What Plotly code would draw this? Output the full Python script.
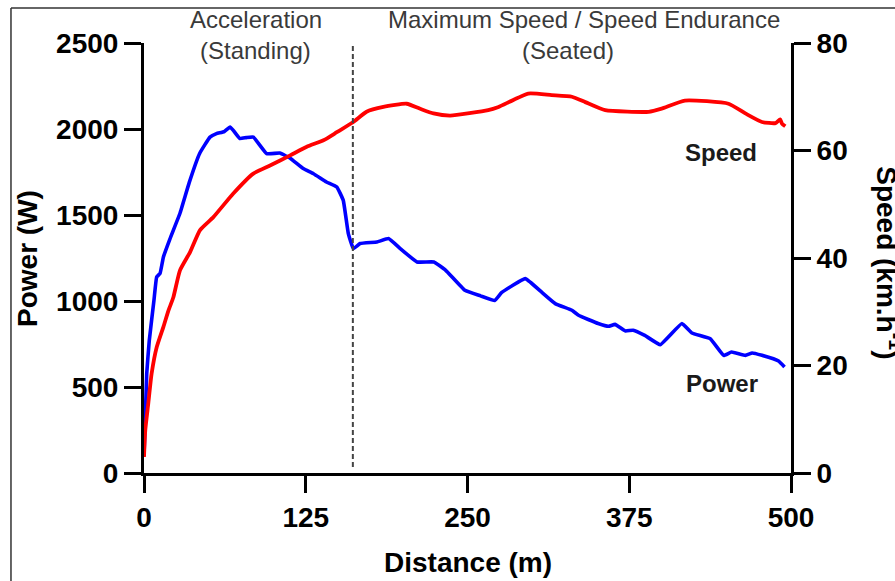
import plotly.graph_objects as go

# Power curve (W) vs distance (m)
power_dist = [0, 2.1, 4.1, 7.7, 9.8, 12.4, 15, 20, 27.8, 35, 43, 51, 56, 62, 66.5, 69, 74, 79, 84.5,
              94.8, 105, 113, 123, 131, 141, 149, 154, 157.9, 161.8, 167, 180, 189, 198, 211, 224,
              233, 248, 260, 271, 276.5, 294.6, 307.5, 317.8, 330.7, 335.8, 351, 359, 364, 372, 378,
              387, 399, 415.7, 423.4, 437.6, 448, 454, 464.7, 470, 477.6, 490.4, 495]
power_w = [100, 578, 772, 1004, 1140, 1160, 1256, 1360, 1510, 1690, 1858, 1953, 1973, 1985, 2012, 1992,
           1945, 1950, 1953, 1857, 1860, 1830, 1770, 1740, 1692, 1663, 1585, 1392, 1305, 1334, 1343,
           1363, 1305, 1227, 1227, 1180, 1062, 1030, 1003, 1050, 1130, 1050, 985, 946, 917, 869, 853,
           864, 826, 830, 800, 746, 869, 814, 781, 684, 703, 684, 698, 684, 651, 616]

# Speed curve (km/h) vs distance (m)
speed_dist = [0, 1, 3.3, 5.9, 9.8, 15, 19, 22.7, 27.8, 35.6, 43.3, 53.6, 69, 84.5, 97.4, 113, 125.8,
              138.7, 149, 161.8, 172, 185, 203, 213, 223.7, 236.6, 266, 274, 297, 315, 330.7, 341,
              356.4, 390, 400, 418, 451.7, 464.7, 477.6, 488, 491.6, 493, 495.6]
speed_kmh = [3, 8, 12.9, 18.5, 23.4, 27.2, 30.3, 32.7, 37.7, 41.1, 45.2, 47.6, 52, 55.7, 57.2, 59.1,
             60.7, 61.9, 63.4, 65.3, 67.2, 68.1, 68.7, 67.8, 66.9, 66.5, 67.5, 68.1, 70.6, 70.3, 70,
             69, 67.5, 67.2, 67.8, 69.3, 68.7, 66.9, 65.3, 65.1, 65.8, 65.0, 64.5]

x_ticks = [0, 125, 250, 375, 500]
power_ticks = [0, 500, 1000, 1500, 2000, 2500]
speed_ticks = [0, 20, 40, 60, 80]
phase_split = 161.4

FONT = "Liberation Sans"
tickfont = dict(family=FONT, size=28, color="black", weight="bold")

fig = go.Figure()
fig.add_trace(go.Scatter(x=speed_dist, y=speed_kmh, yaxis="y2", mode="lines",
                         line=dict(color="#ff0000", width=3.8, shape="spline", smoothing=0.5),
                         showlegend=False))
fig.add_trace(go.Scatter(x=power_dist, y=power_w, mode="lines",
                         line=dict(color="#0000ff", width=3.6, shape="spline", smoothing=0.3),
                         showlegend=False))

axis_common = dict(showline=True, linewidth=3, linecolor="black", ticks="outside", ticklen=17,
                   tickwidth=3, tickcolor="black", showgrid=False, zeroline=False, tickfont=tickfont)

fig.update_layout(
    width=895, height=581,
    margin=dict(l=144, r=104, t=43, b=108),
    paper_bgcolor="white", plot_bgcolor="white",
    xaxis=dict(range=[0, 500], tickvals=x_ticks, **axis_common),
    yaxis=dict(range=[0, 2500], tickvals=power_ticks, **axis_common),
    yaxis2=dict(range=[0, 80], tickvals=speed_ticks, overlaying="y", side="right", anchor="x",
                **axis_common),
)

# dashed phase separator
fig.add_shape(type="line", xref="x", yref="y", x0=phase_split, x1=phase_split, y0=35, y1=2500,
              line=dict(color="#444444", width=2, dash="5px,3px"))

# image frame lines
fig.add_shape(type="line", xref="paper", yref="paper", x0=-0.2056, x1=-0.2056, y0=1.0814, y1=-0.3,
              line=dict(color="#333333", width=1.5))
fig.add_shape(type="line", xref="paper", yref="paper", x0=-0.2056, x1=1.25, y0=1.0814, y1=1.0814,
              line=dict(color="#333333", width=1.5))

gray = "#3a3a3a"
ann = [
    dict(text="Acceleration", x=0.1727, y=1.0535, size=24, color=gray, weight="normal", angle=0),
    dict(text="(Standing)", x=0.1731, y=0.9814, size=24, color=gray, weight="normal", angle=0),
    dict(text="Maximum Speed / Speed Endurance", x=0.6808, y=1.0535, size=24, color=gray,
         weight="normal", angle=0),
    dict(text="(Seated)", x=0.6553, y=0.9814, size=24, color=gray, weight="normal", angle=0),
    dict(text="Speed", x=0.8918, y=0.7465, size=24, color="#1a1a1a", weight="bold", angle=0),
    dict(text="Power", x=0.8941, y=0.2081, size=24, color="#1a1a1a", weight="bold", angle=0),
    dict(text="Power (W)", x=-0.1801, y=0.4988, size=28, color="black", weight="bold", angle=-90),
    dict(text="Distance (m)", x=0.5, y=-0.207, size=28, color="black", weight="bold", angle=0),
    dict(text="Speed (km.h<sup>-1</sup>)", x=1.1514, y=0.488, size=28, color="black",
         weight="bold", angle=90),
]
for a in ann:
    fig.add_annotation(text=a["text"], x=a["x"], y=a["y"], xref="paper", yref="paper",
                       showarrow=False, xanchor="center", yanchor="middle", textangle=a["angle"],
                       font=dict(family=FONT, size=a["size"], color=a["color"], weight=a["weight"]))

fig.write_html("out.html")
